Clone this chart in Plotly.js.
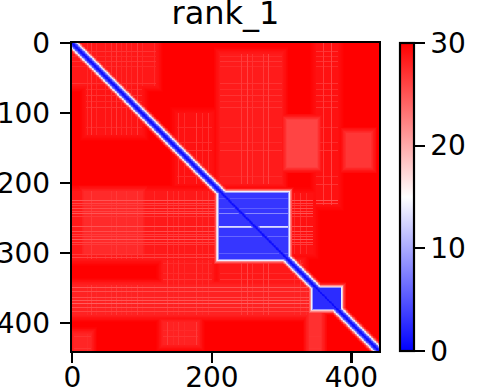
<!DOCTYPE html>
<html>
<head>
<meta charset="utf-8">
<script src="https://cdn.plot.ly/plotly-3.0.1.min.js"></script>
<style>html,body{margin:0;padding:0;background:#fff;}#chart{width:484px;height:392px;}</style>
</head>
<body>
<div id="chart"></div>
<script>
// ---- data (predicted aligned error matrix, residues 0..439) ----
const nResidues = 440;
const chartTitle = 'rank_1';
const xTickVals = [0, 200, 400];
const yTickVals = [0, 100, 200, 300, 400];
const colorTickVals = [0, 10, 20, 30];
const zMin = 0, zMax = 30;
const background = 30;

// error value by distance |i-j| from the diagonal
const diagProfile = [0.6, 1.2, 2.0, 3.0, 4.5, 6.5, 9.5, 13, 16.5, 20, 23, 25.5, 27.2, 28.4, 29.2];

// confident domains (row range, column range, inner error)
const domainRow0 = [214, 350];
const domainRow1 = [308, 379];
const domainCol0 = [210, 345];
const domainCol1 = [309, 384];
const domainZ    = [3.2, 2.6];
// error by distance outside a domain
const domainEdge = [9, 14, 18.5, 22, 25, 27.2, 28.6, 29.5];
// lighter rows inside the first domain
const domainLineRows = [222, 236, 243, 261, 262, 263, 276, 291, 300];
const domainLineZ    = [5, 5.5, 8, 11, 13, 11, 6, 8, 5.5];

// lighter (lower error) off-diagonal patches
const patchRow0 = [0,   40,  15,  110, 129, 212, 212, 215,  310,  310, 345, 398, 415, 380, 0,    100];
const patchRow1 = [60,  130, 200, 176, 176, 308, 300, 300,  345,  345, 388, 430, 440, 440, 230,  200];
const patchCol0 = [0,   20,  212, 308, 393, 0,   17,  310,  130,  212, 0,   130, 3,   340, 350,  150];
const patchCol1 = [120, 100, 300, 350, 427, 205, 100, 345,  200,  330, 340, 180, 26,  356, 380,  200];
const patchZ    = [28.6, 28.8, 28.4, 26, 26.8, 28.5, 27.5, 29, 28.4, 28.6, 28, 28, 27.8, 27.2, 29, 29];
// fraction of the way back to background by distance outside a patch
const patchFade = [0.1, 0.2, 0.3, 0.4, 0.5, 0.6, 0.7, 0.8, 0.9];

// light streak rows / columns giving the speckled texture
const streakRows = [5, 12, 19, 26, 33, 41, 48, 57, 66, 74, 83, 92, 101, 111, 120, 131, 142, 153, 165, 178, 190, 202,
  214, 218, 221, 225, 229, 232, 236, 240, 243, 247, 251, 254, 258, 262, 265, 269, 273, 276, 280, 284, 287, 291, 295, 298, 302, 306,
  314, 321, 329, 337, 349, 354, 358, 363, 367, 372, 377, 383, 392, 401, 410, 419, 428, 436];
const streakRowZ = [27.5, 27, 27.5, 27, 27.5, 27, 27.5, 27, 27.5, 27, 27.5, 27, 27.5, 27, 27.5, 27, 27.5, 27, 27.5, 27, 27.5, 27,
  26, 25.5, 26.5, 25, 26, 26.5, 25.5, 26, 25, 26.5, 25.5, 26, 26.5, 25, 26, 25.5, 26.5, 26, 25, 26, 26.5, 25.5, 26, 25, 26.5, 26,
  27.5, 27, 27.5, 27, 25, 25.5, 24.5, 25.5, 25, 24.5, 25.5, 26, 27.5, 27, 27.5, 27, 27.5, 27];
const streakCols = [8, 14, 22, 27, 35, 41, 48, 56, 63, 70, 78, 85, 93, 101, 110, 118, 127, 136, 145, 152, 161, 170, 178, 187, 195,
  216, 223, 229, 236, 242, 251, 258, 266, 274, 281, 289, 296, 318, 327, 336, 352, 360, 371, 395, 405, 416];
const streakColZ = [27.5, 27, 27.5, 26.5, 27.5, 27, 27.5, 27, 26.5, 27.5, 27, 27.5, 26.5, 27.5, 27, 27.5, 27, 26.5, 27.5, 27, 27.5, 27, 26.5, 27.5, 27,
  26.5, 26, 27, 25.5, 26.5, 26, 27, 25.5, 26.5, 26, 27, 26.5, 27.5, 27, 27.5, 26, 26.5, 26, 27.5, 27, 27.5];

// ---- build matrix from the arrays ----
const z = [];
for (let i = 0; i < nResidues; i++) {
  const row = [];
  const rs = streakRows.indexOf(i);
  for (let j = 0; j < nResidues; j++) {
    let v = background;
    const cs = streakCols.indexOf(j);
    for (let p = 0; p < patchZ.length; p++) {
      const dr = Math.max(patchRow0[p] - i, 0, i - patchRow1[p]);
      const dc = Math.max(patchCol0[p] - j, 0, j - patchCol1[p]);
      const dist = Math.max(dr, dc);
      if (dist === 0) {
        v = Math.min(v, patchZ[p]);
        if (rs >= 0) v = Math.min(v, streakRowZ[rs]);
        if (cs >= 0) v = Math.min(v, streakColZ[cs]);
      } else if (dist <= patchFade.length) {
        v = Math.min(v, patchZ[p] + (background - patchZ[p]) * patchFade[dist - 1]);
      }
    }
    for (let d = 0; d < domainZ.length; d++) {
      const dr = Math.max(domainRow0[d] - i, 0, i - domainRow1[d]);
      const dc = Math.max(domainCol0[d] - j, 0, j - domainCol1[d]);
      const dist = Math.max(dr, dc);
      if (dist === 0) {
        let inner = domainZ[d];
        if (d === 0) {
          const li = domainLineRows.indexOf(i);
          if (li >= 0) inner = domainLineZ[li];
        }
        v = Math.min(v, inner);
      } else if (dist <= domainEdge.length) {
        v = Math.min(v, domainEdge[dist - 1]);
      }
    }
    const off = Math.abs(i - j);
    if (off < diagProfile.length) v = Math.min(v, diagProfile[off]);
    row.push(v);
  }
  z.push(row);
}

const font = 'DejaVu Sans, sans-serif';
const trace = {
  type: 'heatmap',
  z: z,
  zmin: zMin, zmax: zMax,
  colorscale: [[0, 'rgb(0,0,255)'], [0.5, 'rgb(255,255,255)'], [1, 'rgb(255,0,0)']],
  hoverinfo: 'skip',
  colorbar: {
    x: 1.068, xanchor: 'left', xpad: 0,
    y: 0.5, yanchor: 'middle', ypad: 0,
    len: 1, lenmode: 'fraction',
    thickness: 14, thicknessmode: 'pixels',
    outlinewidth: 2.2, outlinecolor: 'black',
    ticks: 'outside', ticklen: 10, tickwidth: 2.2, tickcolor: 'black',
    ticklabelstandoff: 3,
    tickvals: colorTickVals,
    tickfont: {family: font, size: 28, color: 'black'}
  }
};

const axisCommon = {
  showline: true, linewidth: 2.2, linecolor: 'black', mirror: true,
  ticks: 'outside', ticklen: 10, tickwidth: 2.2, tickcolor: 'black',
  showgrid: false, zeroline: false,
  tickfont: {family: font, size: 28, color: 'black'}
};

const layout = {
  width: 484, height: 392,
  margin: {l: 72, r: 105, t: 43, b: 41, pad: 0},
  paper_bgcolor: 'white', plot_bgcolor: 'white',
  title: {text: chartTitle, font: {family: font, size: 32, color: 'black'},
          x: 0.5, xref: 'paper', y: 0.995, yref: 'container', yanchor: 'top'},
  xaxis: Object.assign({}, axisCommon, {range: [-0.5, nResidues - 0.5], tickvals: xTickVals, ticklabelstandoff: -10}),
  yaxis: Object.assign({}, axisCommon, {range: [nResidues - 0.5, -0.5], tickvals: yTickVals, ticklabelstandoff: 4})
};

Plotly.newPlot('chart', [trace], layout, {displayModeBar: false, staticPlot: true});
</script>
</body>
</html>
